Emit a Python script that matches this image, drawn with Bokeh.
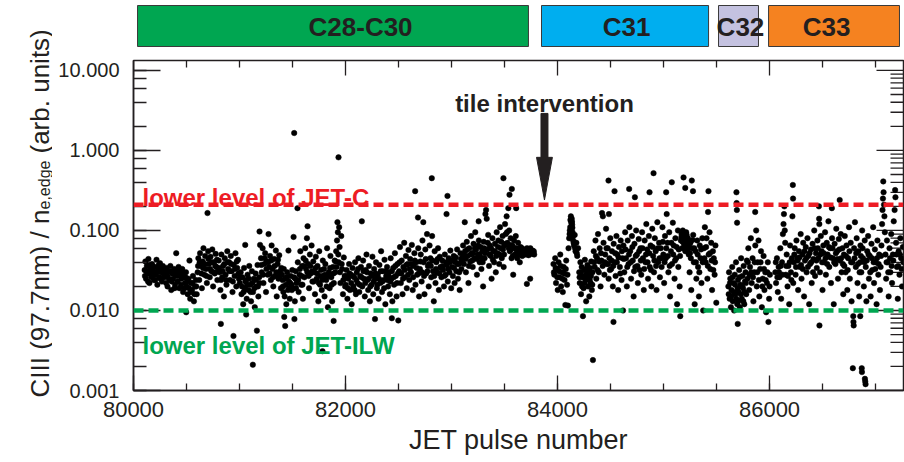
from math import pi, log10
from bokeh.plotting import figure
from bokeh.layouts import column, row
from bokeh.models import (Range1d, Span, Label, PolyAnnotation,
                          SingleIntervalTicker, LogTicker, PrintfTickFormatter, ColumnDataSource)
from bokeh.embed import file_html
from bokeh.resources import INLINE
from bokeh.core.properties import value

# ---------------- data ----------------
campaign_names = ["C28-C30", "C31", "C32", "C33"]
campaign_start = [80038, 83849, 85519, 85991]
campaign_end = [83726, 85425, 85896, 87226]
campaign_colors = ["#00A651", "#00AEEF", "#C4C2E0", "#F58220"]
campaign_label_pulse = [82142, 84651, 85726, 86538]

jet_c_level = 0.21
jet_ilw_level = 0.01
intervention_pulse = 83877

x_major_ticks = [80000, 82000, 84000, 86000]
x_minor_ticks = [80500, 81000, 81500, 82500, 83000, 83500, 84500, 85000, 85500, 86500, 87000]
y_major_ticks = [0.001, 0.01, 0.1, 1.0, 10.0]

# (pulse, CIII/ne_edge)
c28_c30 = [
    (80105, 0.032), (80112, 0.041), (80118, 0.025), (80126, 0.036), (80133, 0.029), (80141, 0.044), (80150, 0.022), (80158, 0.034), (80166, 0.027), (80175, 0.038), (80183, 0.031), (80192, 0.024),
    (80201, 0.035), (80209, 0.028), (80217, 0.043), (80225, 0.021), (80233, 0.033), (80242, 0.026), (80250, 0.039), (80259, 0.030), (80268, 0.023), (80277, 0.036), (80286, 0.028), (80295, 0.032),
    (80304, 0.027), (80312, 0.034), (80321, 0.020), (80330, 0.030), (80339, 0.024), (80348, 0.036), (80356, 0.018), (80365, 0.029), (80374, 0.025), (80383, 0.033), (80392, 0.021), (80398, 0.028),
    (80403, 0.052), (80408, 0.031), (80416, 0.023), (80425, 0.035), (80433, 0.019), (80442, 0.028), (80451, 0.025), (80460, 0.033), (80468, 0.017), (80477, 0.026), (80486, 0.022), (80495, 0.030), (80497, 0.0095),
    (80503, 0.020), (80511, 0.016), (80519, 0.025), (80528, 0.042), (80535, 0.014), (80544, 0.022), (80552, 0.018), (80561, 0.027), (80570, 0.013), (80579, 0.020), (80588, 0.024), (80596, 0.016),
    (80605, 0.030), (80612, 0.045), (80620, 0.024), (80628, 0.052), (80636, 0.036), (80645, 0.019), (80653, 0.041), (80660, 0.060), (80668, 0.028), (80676, 0.048), (80684, 0.033), (80692, 0.022), (80698, 0.165),
    (80704, 0.055), (80711, 0.038), (80719, 0.026), (80727, 0.047), (80735, 0.031), (80743, 0.058), (80751, 0.020), (80759, 0.040), (80767, 0.029), (80775, 0.051), (80783, 0.035), (80791, 0.024),
    (80804, 0.042), (80812, 0.030), (80820, 0.018), (80824, 0.0068), (80829, 0.050), (80837, 0.026), (80845, 0.036), (80853, 0.015), (80861, 0.045), (80869, 0.028), (80877, 0.021), (80885, 0.055), (80893, 0.033),
    (80902, 0.040), (80910, 0.024), (80918, 0.048), (80926, 0.031), (80934, 0.017), (80943, 0.0048), (80946, 0.037), (80954, 0.027), (80962, 0.052), (80970, 0.020), (80978, 0.034), (80986, 0.043), (80994, 0.025),
    (81003, 0.022), (81011, 0.030), (81019, 0.016), (81027, 0.026), (81035, 0.012), (81043, 0.034), (81051, 0.019), (81054, 0.066), (81060, 0.024), (81063, 0.0089), (81068, 0.014), (81076, 0.028), (81084, 0.018), (81092, 0.036),
    (81101, 0.021), (81109, 0.013), (81117, 0.031), (81126, 0.0021), (81128, 0.017), (81136, 0.025), (81144, 0.011), (81152, 0.029), (81160, 0.020), (81164, 0.0056), (81170, 0.037), (81178, 0.015), (81186, 0.026), (81189, 0.097), (81194, 0.066),
    (81203, 0.045), (81210, 0.030), (81218, 0.060), (81226, 0.022), (81234, 0.038), (81242, 0.052), (81250, 0.017), (81258, 0.041), (81266, 0.028), (81274, 0.090), (81280, 0.035), (81288, 0.048), (81296, 0.024),
    (81303, 0.065), (81311, 0.033), (81319, 0.020), (81327, 0.044), (81335, 0.027), (81343, 0.056), (81351, 0.015), (81359, 0.038), (81367, 0.025), (81375, 0.049), (81383, 0.031), (81391, 0.019),
    (81402, 0.028), (81410, 0.020), (81418, 0.033), (81422, 0.0083), (81426, 0.015), (81431, 0.0064), (81434, 0.025), (81442, 0.012), (81450, 0.030), (81458, 0.018), (81462, 0.056), (81466, 0.023), (81474, 0.014), (81482, 0.027), (81490, 0.021), (81498, 0.032),
    (81506, 0.019), (81510, 0.083), (81514, 0.026), (81516, 1.65), (81518, 0.0078), (81522, 0.013), (81530, 0.031), (81538, 0.022), (81547, 0.19), (81550, 0.040), (81558, 0.017), (81566, 0.028), (81574, 0.055), (81582, 0.021), (81590, 0.036), (81598, 0.014),
    (81604, 0.045), (81612, 0.026), (81620, 0.060), (81628, 0.033), (81636, 0.080), (81642, 0.113), (81648, 0.038), (81656, 0.019), (81664, 0.050), (81672, 0.029), (81680, 0.065), (81688, 0.023), (81696, 0.041),
    (81704, 0.030), (81712, 0.016), (81720, 0.047), (81728, 0.025), (81736, 0.036), (81744, 0.013), (81752, 0.055), (81760, 0.021), (81768, 0.032), (81776, 0.018), (81783, 0.0031), (81786, 0.042), (81794, 0.027),
    (81802, 0.015), (81810, 0.038), (81818, 0.024), (81826, 0.060), (81834, 0.011), (81842, 0.030), (81850, 0.019), (81858, 0.048), (81866, 0.026), (81874, 0.013), (81882, 0.035), (81888, 0.0074), (81890, 0.022), (81898, 0.042),
    (81904, 0.030), (81912, 0.055), (81920, 0.075), (81924, 0.127), (81928, 0.095), (81934, 0.82), (81936, 0.040), (81940, 0.110), (81944, 0.062), (81952, 0.022), (81960, 0.085), (81968, 0.033), (81976, 0.016), (81984, 0.046), (81992, 0.027),
    (82002, 0.021), (82010, 0.032), (82018, 0.014), (82026, 0.025), (82034, 0.038), (82042, 0.018), (82050, 0.028), (82058, 0.012), (82066, 0.034), (82074, 0.020), (82082, 0.026), (82090, 0.040), (82098, 0.016),
    (82106, 0.030), (82114, 0.022), (82122, 0.045), (82130, 0.017), (82138, 0.027), (82146, 0.035), (82154, 0.130), (82158, 0.020), (82166, 0.042), (82174, 0.025), (82182, 0.015), (82190, 0.032), (82198, 0.050),
    (82206, 0.024), (82214, 0.018), (82222, 0.036), (82230, 0.013), (82238, 0.029), (82246, 0.021), (82254, 0.047), (82262, 0.016), (82270, 0.033), (82278, 0.0078), (82280, 0.025), (82288, 0.040), (82296, 0.019),
    (82304, 0.028), (82312, 0.014), (82320, 0.037), (82328, 0.022), (82336, 0.055), (82344, 0.017), (82352, 0.031), (82360, 0.024), (82368, 0.043), (82376, 0.012), (82384, 0.027), (82392, 0.035),
    (82402, 0.020), (82410, 0.030), (82418, 0.016), (82426, 0.045), (82434, 0.025), (82437, 0.0080), (82442, 0.013), (82450, 0.034), (82458, 0.021), (82466, 0.052), (82474, 0.027), (82482, 0.015), (82490, 0.038), (82498, 0.0075),
    (82506, 0.031), (82514, 0.062), (82522, 0.022), (82530, 0.042), (82538, 0.016), (82546, 0.035), (82554, 0.070), (82562, 0.026), (82570, 0.048), (82578, 0.019), (82586, 0.038), (82594, 0.057),
    (82602, 0.024), (82610, 0.044), (82618, 0.030), (82626, 0.066), (82634, 0.018), (82642, 0.036), (82650, 0.052), (82657, 0.31), (82660, 0.021), (82668, 0.040), (82676, 0.028), (82684, 0.145), (82686, 0.060), (82694, 0.015),
    (82702, 0.033), (82710, 0.050), (82718, 0.023), (82726, 0.075), (82734, 0.127), (82737, 0.040), (82745, 0.016), (82753, 0.058), (82761, 0.029), (82769, 0.090), (82777, 0.036), (82785, 0.020), (82793, 0.065),
    (82801, 0.045), (82809, 0.026), (82814, 0.45), (82817, 0.085), (82825, 0.031), (82833, 0.013), (82841, 0.055), (82849, 0.022), (82857, 0.040), (82865, 0.030), (82873, 0.060), (82881, 0.018), (82889, 0.047), (82897, 0.035),
    (82905, 0.026), (82913, 0.042), (82921, 0.032), (82929, 0.020), (82937, 0.050), (82945, 0.028), (82953, 0.160), (82955, 0.037), (82962, 0.27), (82965, 0.023), (82973, 0.045), (82981, 0.030), (82989, 0.056), (82997, 0.019),
    (83005, 0.035), (83013, 0.027), (83021, 0.048), (83029, 0.022), (83037, 0.040), (83045, 0.031), (83053, 0.058), (83061, 0.025), (83069, 0.038), (83077, 0.018), (83085, 0.052), (83093, 0.033),
    (83101, 0.045), (83109, 0.065), (83117, 0.038), (83125, 0.127), (83128, 0.055), (83136, 0.030), (83144, 0.072), (83152, 0.048), (83160, 0.022), (83168, 0.060), (83176, 0.041), (83184, 0.085), (83192, 0.052),
    (83200, 0.035), (83208, 0.068), (83216, 0.045), (83224, 0.095), (83232, 0.058), (83240, 0.028), (83248, 0.050), (83256, 0.130), (83258, 0.075), (83266, 0.040), (83274, 0.062), (83282, 0.033), (83290, 0.055), (83298, 0.020),
    (83304, 0.072), (83312, 0.045), (83320, 0.160), (83326, 0.180), (83332, 0.140), (83338, 0.058), (83346, 0.088), (83354, 0.036), (83362, 0.065), (83370, 0.048), (83378, 0.025), (83386, 0.080), (83394, 0.055),
    (83402, 0.040), (83410, 0.068), (83418, 0.030), (83426, 0.095), (83434, 0.052), (83442, 0.075), (83450, 0.038), (83458, 0.110), (83466, 0.060), (83474, 0.045), (83482, 0.085), (83490, 0.45), (83492, 0.035), (83498, 0.065),
    (83505, 0.120), (83512, 0.090), (83520, 0.150), (83528, 0.070), (83536, 0.190), (83544, 0.100), (83547, 0.28), (83550, 0.055), (83558, 0.080), (83566, 0.045), (83569, 0.33), (83574, 0.065), (83582, 0.028), (83590, 0.075), (83598, 0.050),
    (83606, 0.085), (83610, 0.19), (83612, 0.060), (83620, 0.045), (83628, 0.070), (83636, 0.052), (83644, 0.040), (83652, 0.062), (83660, 0.055), (83668, 0.048), (83676, 0.058), (83684, 0.051), (83692, 0.056),
    (83700, 0.053), (83708, 0.057), (83711, 0.0215), (83716, 0.050), (83724, 0.055), (83732, 0.052), (83740, 0.058), (83742, 0.025), (83748, 0.054), (83756, 0.051), (83764, 0.056), (83772, 0.053), (83780, 0.050),
    # denser core of the band
    (80108, 0.027), (80122, 0.031), (80137, 0.023), (80146, 0.037), (80162, 0.030), (80171, 0.026), (80187, 0.035), (80197, 0.029), (80205, 0.024), (80221, 0.030), (80238, 0.037), (80255, 0.025), (80264, 0.034), (80281, 0.031), (80291, 0.026),
    (80308, 0.022), (80326, 0.026), (80344, 0.031), (80361, 0.023), (80379, 0.029), (80388, 0.019), (80412, 0.027), (80429, 0.031), (80447, 0.021), (80464, 0.029), (80482, 0.019), (80491, 0.026),
    (80507, 0.023), (80524, 0.019), (80540, 0.017), (80557, 0.022), (80574, 0.016), (80592, 0.020),
    (80609, 0.036), (80624, 0.040), (80640, 0.029), (80657, 0.034), (80672, 0.038), (80688, 0.027), (80707, 0.044), (80723, 0.033), (80739, 0.040), (80755, 0.030), (80771, 0.036), (80787, 0.043), (80795, 0.031),
    (80808, 0.034), (80825, 0.024), (80841, 0.031), (80857, 0.038), (80873, 0.024), (80889, 0.040), (80906, 0.031), (80922, 0.038), (80938, 0.023), (80958, 0.033), (80974, 0.041), (80990, 0.029),
    (81007, 0.026), (81023, 0.020), (81039, 0.017), (81056, 0.023), (81072, 0.021), (81088, 0.025), (81105, 0.017), (81121, 0.022), (81140, 0.019), (81156, 0.024), (81174, 0.020), (81190, 0.022),
    (81206, 0.037), (81222, 0.028), (81238, 0.045), (81254, 0.033), (81270, 0.040), (81284, 0.029), (81300, 0.042), (81315, 0.026), (81331, 0.036), (81347, 0.030), (81363, 0.043), (81379, 0.027), (81395, 0.034),
    (81406, 0.024), (81414, 0.017), (81438, 0.021), (81446, 0.026), (81470, 0.019), (81478, 0.022), (81494, 0.018), (81526, 0.025), (81534, 0.019), (81554, 0.024), (81570, 0.033), (81586, 0.027), (81594, 0.021),
    (81608, 0.036), (81624, 0.042), (81640, 0.030), (81652, 0.027), (81668, 0.036), (81684, 0.031), (81700, 0.023), (81716, 0.034), (81732, 0.029), (81748, 0.022), (81764, 0.027), (81780, 0.024), (81798, 0.033),
    (81806, 0.028), (81822, 0.020), (81838, 0.027), (81854, 0.034), (81870, 0.021), (81886, 0.029), (81908, 0.041), (81916, 0.035), (81932, 0.050), (81948, 0.030), (81964, 0.038), (81980, 0.024), (81996, 0.020),
    (82006, 0.027), (82022, 0.019), (82038, 0.029), (82054, 0.022), (82070, 0.027), (82086, 0.018), (82102, 0.024), (82118, 0.033), (82134, 0.021), (82150, 0.026), (82170, 0.031), (82186, 0.022),
    (82202, 0.030), (82218, 0.025), (82234, 0.020), (82250, 0.027), (82266, 0.023), (82284, 0.029), (82300, 0.021), (82316, 0.025), (82332, 0.031), (82348, 0.023), (82364, 0.019), (82380, 0.031), (82396, 0.024),
    (82406, 0.027), (82422, 0.023), (82438, 0.031), (82454, 0.026), (82470, 0.036), (82486, 0.022), (82494, 0.029), (82510, 0.040), (82526, 0.029), (82542, 0.025), (82558, 0.032), (82574, 0.037), (82590, 0.028),
    (82606, 0.033), (82622, 0.038), (82638, 0.026), (82654, 0.042), (82672, 0.034), (82690, 0.029), (82706, 0.041), (82722, 0.030), (82741, 0.027), (82757, 0.044), (82773, 0.031), (82789, 0.038),
    (82805, 0.036), (82821, 0.042), (82837, 0.027), (82853, 0.033), (82869, 0.044), (82885, 0.029), (82901, 0.034), (82917, 0.036), (82933, 0.027), (82949, 0.040), (82969, 0.033), (82985, 0.040),
    (83009, 0.042), (83025, 0.034), (83041, 0.046), (83057, 0.038), (83073, 0.030), (83089, 0.044), (83097, 0.040), (83113, 0.050), (83132, 0.044), (83148, 0.058), (83164, 0.036), (83180, 0.050), (83196, 0.042),
    (83204, 0.052), (83220, 0.060), (83236, 0.044), (83252, 0.065), (83262, 0.050), (83278, 0.046), (83294, 0.040), (83308, 0.060), (83316, 0.052), (83342, 0.070), (83358, 0.050), (83374, 0.060), (83390, 0.043),
    (83406, 0.055), (83422, 0.048), (83438, 0.062), (83454, 0.050), (83470, 0.072), (83486, 0.058), (83496, 0.050), (83508, 0.068), (83524, 0.095), (83540, 0.060), (83554, 0.066), (83562, 0.058), (83578, 0.048), (83594, 0.060),
    (83616, 0.053), (83632, 0.058), (83648, 0.050), (83664, 0.060), (83680, 0.054), (83696, 0.050), (83712, 0.060), (83728, 0.049), (83744, 0.060), (83760, 0.052), (83776, 0.055),
]

c31 = [
    (83962, 0.038), (83970, 0.028), (83978, 0.045), (83986, 0.022), (83994, 0.033), (84002, 0.018), (84010, 0.040), (84018, 0.026), (84026, 0.050), (84034, 0.020), (84042, 0.030), (84050, 0.017), (84058, 0.035), (84066, 0.024), (84074, 0.0117), (84082, 0.042), (84090, 0.021), (84098, 0.0115),
    (84104, 0.060), (84110, 0.080), (84116, 0.100), (84122, 0.135), (84126, 0.150), (84130, 0.125), (84134, 0.140), (84138, 0.118), (84142, 0.095), (84148, 0.075), (84155, 0.065), (84162, 0.088), (84170, 0.055), (84178, 0.070), (84186, 0.048), (84194, 0.060),
    (84205, 0.030), (84210, 0.022), (84216, 0.040), (84222, 0.016), (84228, 0.035), (84234, 0.026), (84240, 0.0085), (84246, 0.019), (84252, 0.032), (84258, 0.043), (84264, 0.024), (84270, 0.013), (84276, 0.029), (84282, 0.037), (84288, 0.020), (84294, 0.027), (84300, 0.015), (84306, 0.034), (84312, 0.022), (84318, 0.041), (84324, 0.018), (84330, 0.030), (84334, 0.0024),
    (84342, 0.055), (84350, 0.035), (84358, 0.075), (84366, 0.025), (84374, 0.045), (84382, 0.090), (84390, 0.030), (84398, 0.060), (84406, 0.020), (84414, 0.042), (84420, 0.165), (84428, 0.150), (84434, 0.070), (84442, 0.028), (84450, 0.050), (84458, 0.105), (84466, 0.038),
    (84474, 0.060), (84481, 0.42), (84482, 0.025), (84485, 0.16), (84490, 0.045), (84498, 0.080), (84506, 0.033), (84514, 0.055), (84522, 0.020), (84528, 0.0072), (84530, 0.068), (84538, 0.31), (84540, 0.040), (84548, 0.027), (84556, 0.085), (84564, 0.050), (84572, 0.018), (84580, 0.062), (84588, 0.035), (84596, 0.075), (84604, 0.024), (84612, 0.045), (84618, 0.010),
    (84622, 0.065), (84630, 0.030), (84638, 0.095), (84646, 0.045), (84654, 0.020), (84662, 0.075), (84670, 0.038), (84676, 0.33), (84678, 0.110), (84686, 0.055), (84694, 0.025), (84702, 0.085), (84710, 0.042), (84718, 0.015), (84726, 0.068), (84730, 0.26), (84734, 0.035), (84742, 0.100), (84750, 0.050), (84758, 0.022), (84766, 0.078), (84774, 0.032),
    (84782, 0.060), (84790, 0.028), (84798, 0.095), (84806, 0.045), (84814, 0.018), (84822, 0.075), (84830, 0.040), (84838, 0.120), (84846, 0.058), (84854, 0.025), (84862, 0.085), (84868, 0.30), (84870, 0.035), (84878, 0.065), (84886, 0.020), (84894, 0.105), (84902, 0.048), (84906, 0.52), (84910, 0.030), (84918, 0.080), (84926, 0.055), (84934, 0.018), (84942, 0.127), (84950, 0.040), (84958, 0.070), (84966, 0.026),
    (84974, 0.060), (84982, 0.035), (84990, 0.110), (84998, 0.050), (85006, 0.022), (85014, 0.085), (85022, 0.045), (85025, 0.30), (85030, 0.160), (85038, 0.070), (85046, 0.030), (85054, 0.095), (85062, 0.015), (85070, 0.055), (85078, 0.40), (85080, 0.038), (85088, 0.125), (85096, 0.065), (85104, 0.025), (85112, 0.080), (85120, 0.045), (85128, 0.012), (85136, 0.100), (85144, 0.058), (85152, 0.020), (85158, 0.0085),
    (85164, 0.075), (85170, 0.090), (85176, 0.060), (85182, 0.100), (85189, 0.46), (85190, 0.070), (85198, 0.085), (85205, 0.34), (85206, 0.055), (85214, 0.095), (85222, 0.065), (85230, 0.080), (85238, 0.050), (85246, 0.030), (85254, 0.070), (85262, 0.018), (85267, 0.42), (85270, 0.060), (85278, 0.31), (85280, 0.088), (85286, 0.040), (85294, 0.012), (85302, 0.055), (85310, 0.025), (85318, 0.075), (85326, 0.035), (85334, 0.015), (85342, 0.065), (85350, 0.045), (85358, 0.022), (85366, 0.080), (85374, 0.010),
    (85382, 0.060), (85390, 0.110), (85398, 0.040), (85406, 0.080), (85414, 0.025), (85420, 0.17), (85424, 0.31), (85426, 0.050), (85434, 0.095), (85442, 0.033), (85450, 0.070), (85458, 0.018), (85466, 0.055), (85474, 0.045), (85482, 0.028), (85490, 0.065), (85498, 0.0125),
    # denser core
    (83966, 0.030), (83982, 0.034), (83998, 0.026), (84014, 0.031), (84030, 0.036), (84046, 0.025), (84062, 0.029), (84078, 0.033), (84094, 0.028),
    (84114, 0.090), (84120, 0.110), (84128, 0.138), (84132, 0.130), (84136, 0.128), (84140, 0.108), (84146, 0.085), (84152, 0.070), (84166, 0.060), (84182, 0.052),
    (84208, 0.026), (84220, 0.030), (84232, 0.020), (84244, 0.027), (84256, 0.022), (84268, 0.033), (84280, 0.025), (84292, 0.031), (84304, 0.024), (84316, 0.027), (84328, 0.021),
    (84346, 0.040), (84362, 0.048), (84378, 0.032), (84394, 0.041), (84410, 0.052), (84426, 0.036), (84446, 0.040), (84462, 0.060), (84478, 0.038), (84494, 0.032), (84510, 0.042), (84526, 0.036), (84544, 0.052), (84560, 0.040), (84576, 0.046), (84592, 0.029), (84608, 0.055),
    (84626, 0.044), (84642, 0.058), (84658, 0.035), (84674, 0.050), (84690, 0.040), (84706, 0.062), (84722, 0.031), (84738, 0.048), (84754, 0.036), (84770, 0.055), (84786, 0.042), (84802, 0.060), (84818, 0.033), (84834, 0.050), (84850, 0.040), (84866, 0.052), (84882, 0.032), (84898, 0.062), (84914, 0.042), (84930, 0.036), (84946, 0.060), (84962, 0.045),
    (84978, 0.045), (84994, 0.072), (85010, 0.040), (85026, 0.060), (85042, 0.048), (85058, 0.036), (85074, 0.070), (85092, 0.050), (85108, 0.042), (85124, 0.062), (85140, 0.035), (85156, 0.048), (85168, 0.082), (85180, 0.072), (85194, 0.062), (85202, 0.078), (85210, 0.068), (85218, 0.088), (85226, 0.058), (85234, 0.072), (85242, 0.062), (85250, 0.052), (85258, 0.045), (85274, 0.076), (85290, 0.060), (85306, 0.040), (85322, 0.050), (85338, 0.030), (85354, 0.058), (85370, 0.040),
    (85386, 0.045), (85402, 0.062), (85418, 0.036), (85438, 0.052), (85454, 0.042), (85470, 0.032), (85486, 0.040),
]

c32 = [
    (85612, 0.020), (85618, 0.030), (85624, 0.014), (85630, 0.025), (85636, 0.011), (85642, 0.018), (85648, 0.035), (85654, 0.013), (85660, 0.022), (85666, 0.010), (85672, 0.028), (85678, 0.016), (85684, 0.040), (85688, 0.30), (85690, 0.22), (85692, 0.18), (85694, 0.125), (85696, 0.012), (85700, 0.0068),
    (85702, 0.024), (85708, 0.017), (85714, 0.032), (85720, 0.011), (85726, 0.021), (85732, 0.045), (85738, 0.014), (85744, 0.027), (85750, 0.019), (85756, 0.036), (85762, 0.012), (85768, 0.023), (85774, 0.030), (85780, 0.016), (85786, 0.042),
    (85792, 0.025), (85800, 0.060), (85808, 0.018), (85816, 0.035), (85824, 0.080), (85832, 0.022), (85840, 0.045), (85848, 0.013), (85856, 0.030), (85865, 0.17), (85866, 0.065), (85874, 0.100), (85880, 0.020), (85888, 0.040), (85896, 0.075),
    (85904, 0.015), (85912, 0.033), (85920, 0.055), (85928, 0.011), (85936, 0.025), (85944, 0.048), (85952, 0.018), (85960, 0.030), (85968, 0.0095), (85976, 0.022), (85984, 0.040), (85990, 0.0072), (85996, 0.014), (86004, 0.028),
    # denser core
    (85615, 0.016), (85627, 0.022), (85639, 0.015), (85651, 0.026), (85663, 0.017), (85675, 0.021), (85687, 0.014), (85699, 0.019), (85705, 0.013), (85717, 0.026), (85729, 0.016), (85741, 0.020), (85753, 0.013), (85765, 0.017), (85777, 0.022),
    (85796, 0.040), (85812, 0.028), (85828, 0.030), (85844, 0.026), (85860, 0.040), (85884, 0.030), (85900, 0.024), (85916, 0.040), (85932, 0.020), (85948, 0.033), (85964, 0.024), (85980, 0.030), (86000, 0.020),
]

c33 = [
    (86055, 0.030), (86062, 0.022), (86070, 0.045), (86078, 0.017), (86086, 0.035), (86094, 0.026), (86102, 0.060), (86110, 0.014), (86118, 0.040), (86126, 0.090), (86132, 0.120), (86136, 0.160), (86140, 0.20), (86144, 0.100), (86148, 0.070), (86154, 0.028), (86162, 0.050), (86170, 0.020), (86178, 0.036), (86186, 0.012), (86194, 0.065), (86202, 0.030), (86210, 0.045), (86216, 0.15), (86220, 0.37), (86222, 0.25), (86224, 0.022),
    (86230, 0.040), (86238, 0.060), (86246, 0.028), (86254, 0.075), (86262, 0.045), (86270, 0.018), (86278, 0.055), (86286, 0.035), (86294, 0.090), (86302, 0.025), (86310, 0.050), (86318, 0.070), (86326, 0.015), (86334, 0.042), (86342, 0.062), (86350, 0.030), (86358, 0.080), (86366, 0.048), (86374, 0.012), (86382, 0.038), (86390, 0.058), (86398, 0.022), (86406, 0.068), (86414, 0.044), (86422, 0.100), (86430, 0.027), (86438, 0.052), (86446, 0.034),
    (86452, 0.075), (86460, 0.045), (86466, 0.20), (86468, 0.14), (86470, 0.120), (86471, 0.0065), (86476, 0.030), (86484, 0.085), (86492, 0.055), (86500, 0.018), (86508, 0.065), (86516, 0.040), (86524, 0.095), (86532, 0.028), (86540, 0.070), (86548, 0.050), (86556, 0.130), (86564, 0.035), (86572, 0.060), (86580, 0.022), (86588, 0.19), (86590, 0.080), (86598, 0.045),
    (86606, 0.012), (86614, 0.068), (86622, 0.038), (86630, 0.105), (86638, 0.055), (86646, 0.025), (86654, 0.078), (86662, 0.24), (86664, 0.042), (86672, 0.090), (86680, 0.030), (86688, 0.060), (86696, 0.016),
    (86702, 0.050), (86710, 0.085), (86718, 0.030), (86726, 0.065), (86734, 0.018), (86742, 0.045), (86750, 0.110), (86758, 0.025), (86766, 0.070), (86774, 0.013), (86782, 0.040), (86786, 0.0019), (86790, 0.0085), (86792, 0.0072), (86794, 0.0065), (86798, 0.060), (86806, 0.127), (86814, 0.035), (86822, 0.080), (86830, 0.022), (86838, 0.055), (86846, 0.015), (86854, 0.040),
    (86856, 0.0085), (86858, 0.065), (86866, 0.030), (86870, 0.0019), (86872, 0.0017), (86874, 0.100), (86882, 0.045), (86890, 0.020), (86898, 0.075), (86900, 0.0014), (86903, 0.0013), (86906, 0.0012), (86908, 0.035), (86914, 0.013), (86922, 0.055), (86930, 0.085), (86938, 0.025), (86946, 0.048), (86954, 0.015), (86962, 0.068), (86970, 0.032), (86978, 0.110), (86986, 0.022), (86994, 0.058),
    (87002, 0.040), (87010, 0.012), (87018, 0.075), (87026, 0.028), (87034, 0.050), (87042, 0.018), (87048, 0.035), (87056, 0.065), (87062, 0.120), (87066, 0.180), (87070, 0.25), (87073, 0.41), (87076, 0.30), (87080, 0.210), (87084, 0.150), (87088, 0.095), (87094, 0.050),
    (87100, 0.025), (87108, 0.075), (87116, 0.040), (87124, 0.015), (87132, 0.060), (87140, 0.030), (87148, 0.090), (87156, 0.022), (87164, 0.050), (87172, 0.130), (87180, 0.18), (87185, 0.32), (87188, 0.26), (87194, 0.070),
    (87202, 0.035), (87210, 0.014), (87218, 0.055), (87226, 0.028), (87234, 0.080), (87242, 0.045), (87250, 0.020), (87258, 0.062),
    # denser core
    (86059, 0.040), (86074, 0.026), (86090, 0.030), (86106, 0.036), (86122, 0.028), (86158, 0.036), (86174, 0.027), (86190, 0.040), (86206, 0.024), (86234, 0.050), (86250, 0.035), (86266, 0.042), (86282, 0.046), (86298, 0.037), (86314, 0.033),
    (86330, 0.055), (86346, 0.045), (86362, 0.035), (86378, 0.052), (86394, 0.040), (86410, 0.030), (86426, 0.060), (86442, 0.042), (86456, 0.060), (86480, 0.050), (86496, 0.040), (86512, 0.052), (86528, 0.045), (86544, 0.038), (86560, 0.062),
    (86576, 0.046), (86594, 0.060), (86610, 0.040), (86626, 0.052), (86642, 0.044), (86658, 0.058), (86676, 0.045), (86692, 0.038), (86706, 0.036), (86722, 0.048), (86738, 0.032), (86754, 0.055), (86770, 0.040), (86802, 0.045), (86818, 0.052),
    (86834, 0.038), (86850, 0.030), (86862, 0.048), (86878, 0.060), (86894, 0.040), (86918, 0.042), (86934, 0.050), (86950, 0.030), (86966, 0.045), (86982, 0.040), (86998, 0.033), (87014, 0.045), (87030, 0.038), (87052, 0.048), (87104, 0.040),
    (87120, 0.030), (87136, 0.045), (87152, 0.036), (87168, 0.042), (87198, 0.050), (87214, 0.036), (87230, 0.050), (87246, 0.033), (87262, 0.040),
]

# ---------------- styling ----------------
FONT = "Liberation Sans"
INK = "#231F20"
X0, X1 = 80000, 87264
Y0, Y1 = 0.001, 13.3
FRAME_W, FRAME_H = 770, 330
LEFT_W = 52  # width of the strip that holds the y-axis title

all_points = c28_c30 + c31 + c32 + c33
src = ColumnDataSource(data=dict(pulse=[pt[0] for pt in all_points],
                                 ciii=[pt[1] for pt in all_points]))

p = figure(frame_width=FRAME_W, frame_height=FRAME_H,
           min_border_left=133 - LEFT_W, min_border_right=1, min_border_top=2, min_border_bottom=72,
           x_range=Range1d(X0, X1), y_range=Range1d(Y0, Y1),
           y_axis_type="log", output_backend="svg", toolbar_location=None,
           background_fill_color="white", border_fill_color="white")
p.grid.visible = False
p.outline_line_color = INK
p.outline_line_width = 1.5


def style_axis(ax, tick_in, minor_in):
    ax.axis_line_color = INK
    ax.axis_line_width = 1.5
    ax.major_tick_line_color = INK
    ax.major_tick_line_width = 1.3
    ax.minor_tick_line_color = INK
    ax.minor_tick_line_width = 1.3
    ax.major_tick_in = tick_in
    ax.major_tick_out = 0
    ax.minor_tick_in = minor_in
    ax.minor_tick_out = 0
    ax.major_label_text_font = FONT
    ax.major_label_text_color = INK


xax = p.xaxis[0]
xax.ticker = SingleIntervalTicker(interval=2000, num_minor_ticks=4)
style_axis(xax, 15, 7)
xax.major_label_text_font_size = "22px"
xax.major_label_standoff = 11
xax.axis_label = "JET pulse number"
xax.axis_label_text_font = FONT
xax.axis_label_text_font_size = "27px"
xax.axis_label_text_font_style = "normal"
xax.axis_label_text_color = INK
xax.axis_label_standoff = 5

yax = p.yaxis[0]
yax.ticker = LogTicker()
yax.formatter = PrintfTickFormatter(format="%.3f")
style_axis(yax, 27, 13)
yax.major_label_text_font_size = "20px"
yax.major_label_standoff = 14

# tick marks on the top and right frame edges (mirrors of the bottom/left axes)
px_per_decade = FRAME_H / (log10(Y1) - log10(Y0))
px_per_pulse = FRAME_W / (X1 - X0)
y_minor_ticks = [m * d for d in (0.001, 0.01, 0.1, 1.0) for m in range(2, 10)]


def down_from_top(px):
    return Y1 / 10 ** (px / px_per_decade)


top_x = x_major_ticks + x_minor_ticks
top_len = [15] * len(x_major_ticks) + [7] * len(x_minor_ticks)
p.segment(x0=top_x, x1=top_x, y0=[Y1] * len(top_x), y1=[down_from_top(L) for L in top_len],
          line_color=INK, line_width=1.3)
right_y = y_major_ticks + y_minor_ticks
right_len = [27] * len(y_major_ticks) + [13] * len(y_minor_ticks)
p.segment(x0=[X1] * len(right_y), x1=[X1 - L / px_per_pulse for L in right_len],
          y0=right_y, y1=right_y, line_color=INK, line_width=1.3)

p.scatter(x="pulse", y="ciii", source=src, marker="circle", size=5.5,
          fill_color="black", line_color="black", line_width=0.5)

p.add_layout(Span(location=jet_c_level, dimension="width", line_color="#ED1C24",
                  line_width=4.5, line_dash="10 5"))
p.add_layout(Span(location=jet_ilw_level, dimension="width", line_color="#00A651",
                  line_width=4.5, line_dash="10 5"))

p.add_layout(Label(x=80085, y=0.259, text="lower level of JET-C", text_color="#ED1C24",
                   text_font=FONT, text_font_style="bold", text_font_size="24px",
                   text_baseline="alphabetic", text_align="left"))
p.add_layout(Label(x=80085, y=0.00365, text="lower level of JET-ILW", text_color="#00A651",
                   text_font=FONT, text_font_style="bold", text_font_size="24px",
                   text_baseline="alphabetic", text_align="left"))
p.add_layout(Label(x=intervention_pulse, y=3.87, text="tile intervention", text_color=INK,
                   text_font=FONT, text_font_style="bold", text_font_size="24px",
                   text_baseline="alphabetic", text_align="center"))

ip = intervention_pulse
p.add_layout(PolyAnnotation(xs=[ip - 33, ip + 33, ip + 33, ip + 75, ip, ip - 75, ip - 33],
                            ys=[2.9, 2.9, 0.82, 0.82, 0.24, 0.82, 0.82],
                            fill_color=INK, fill_alpha=1, line_color=INK, line_alpha=1))

# campaign bar
top = figure(frame_width=FRAME_W, frame_height=58, min_border_left=133 - LEFT_W, min_border_right=1,
             min_border_top=0, min_border_bottom=0, x_range=p.x_range, y_range=Range1d(58, 0),
             x_axis_location=None, y_axis_location=None, output_backend="svg",
             toolbar_location=None, outline_line_color=None)
top.grid.visible = False
top.quad(left=campaign_start, right=campaign_end, top=5, bottom=46,
         fill_color=campaign_colors, line_color="#3a3a3a", line_width=1)
top.text(x=campaign_label_pulse, y=[26] * len(campaign_names), text=campaign_names,
         text_align="center", text_baseline="middle", text_font=value(FONT),
         text_font_style="bold", text_font_size="26px", text_color=INK)

# y-axis title strip (pixel coordinates of the page)
ytitle = figure(frame_width=LEFT_W, frame_height=462, min_border=0,
                x_range=Range1d(0, LEFT_W), y_range=Range1d(462, 0),
                x_axis_location=None, y_axis_location=None, output_backend="svg",
                toolbar_location=None, outline_line_color=None)
ytitle.grid.visible = False
ytitle.add_layout(Label(x=39, y=397, angle=pi / 2, text="CIII (97.7nm) / n",
                        text_font=FONT, text_font_size="26px", text_color=INK,
                        text_align="left", text_baseline="alphabetic"))
ytitle.add_layout(Label(x=44, y=209, angle=pi / 2, text="e,edge",
                        text_font=FONT, text_font_size="16px", text_color=INK,
                        text_align="left", text_baseline="alphabetic"))
ytitle.add_layout(Label(x=39, y=153, angle=pi / 2, text="(arb. units)",
                        text_font=FONT, text_font_size="26px", text_color=INK,
                        text_align="left", text_baseline="alphabetic"))

layout = row(ytitle, column(top, p, spacing=0), spacing=0)
open("out.html", "w").write(file_html(layout, INLINE))
